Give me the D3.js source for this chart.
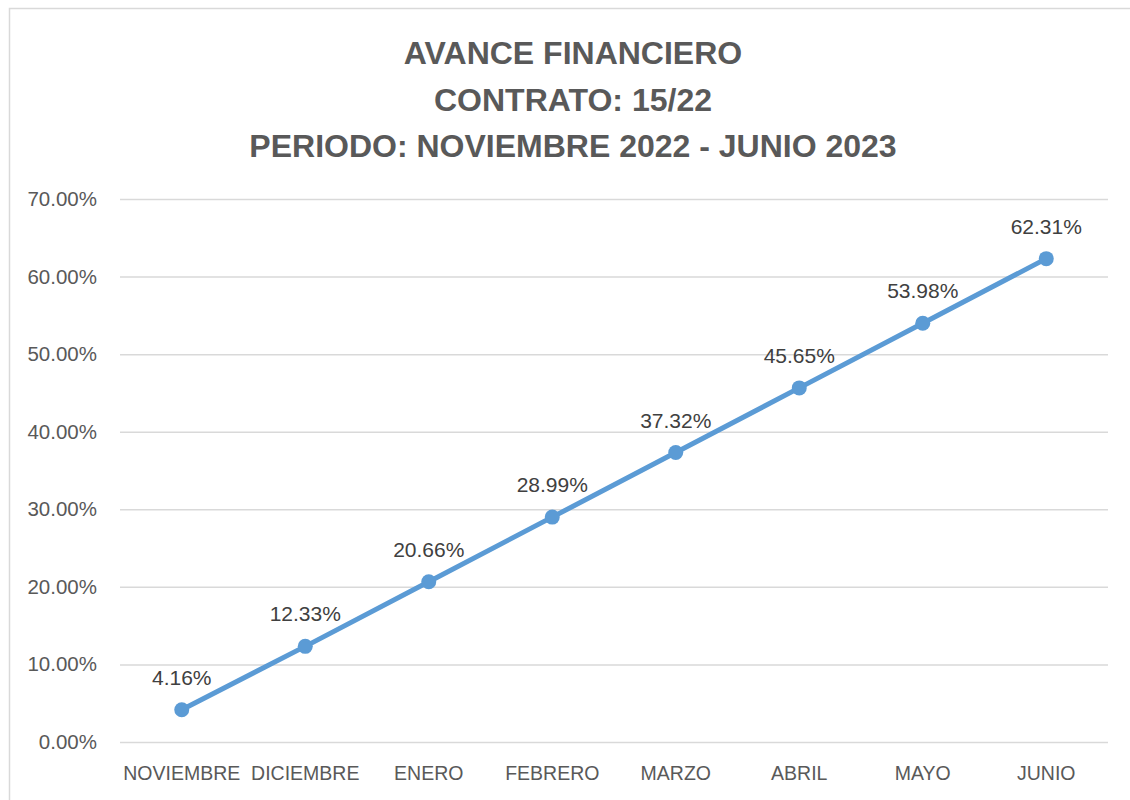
<!DOCTYPE html>
<html><head><meta charset="utf-8">
<script src="https://cdn.jsdelivr.net/npm/d3@7"></script>
<style>body{margin:0;background:#fff}svg{display:block}text{font-family:"Liberation Sans",Arial,sans-serif}</style>
</head><body><svg id="c" width="1130" height="800"></svg>
<script>
const categories = ["NOVIEMBRE","DICIEMBRE","ENERO","FEBRERO","MARZO","ABRIL","MAYO","JUNIO"];
const values = [4.16, 12.33, 20.66, 28.99, 37.32, 45.65, 53.98, 62.31];
const yTicks = [0,10,20,30,40,50,60,70];
const titleLines = ["AVANCE FINANCIERO","CONTRATO: 15/22","PERIODO: NOVIEMBRE 2022 - JUNIO 2023"];

const svg = d3.select("#c");
svg.append("rect").attr("x",9.5).attr("y",8.5).attr("width",1140).attr("height",820)
  .attr("fill","#fff").attr("stroke","#D9D9D9").attr("stroke-width",1.5);

const x = d3.scaleBand().domain(categories).range([120,1108]);
const y = d3.scaleLinear().domain([0,70]).range([742,199]);

svg.append("g").selectAll("text").data(titleLines).join("text")
  .attr("x",573).attr("y",(d,i)=>64+i*46.5).attr("text-anchor","middle")
  .attr("font-size",32).attr("font-weight","bold").attr("fill","#595959").text(d=>d);

const yAxis = d3.axisLeft(y).tickValues(yTicks).tickSize(-988).tickFormat(d=>d.toFixed(2)+"%");
const gy = svg.append("g").attr("transform","translate(120,0)").call(yAxis);
gy.select(".domain").remove();
gy.selectAll(".tick line").attr("stroke","#D9D9D9").attr("stroke-width",1.5);
gy.selectAll(".tick text").attr("x",-23).attr("font-size",20.5).attr("fill","#595959")
  .attr("font-family","Liberation Sans, Arial, sans-serif");

const xAxis = d3.axisBottom(x).tickSize(0);
const gx = svg.append("g").attr("transform","translate(0,742)").call(xAxis);
gx.select(".domain").remove();
gx.selectAll(".tick text").attr("dy",0).attr("y",38).attr("font-size",19.5).attr("fill","#595959")
  .attr("font-family","Liberation Sans, Arial, sans-serif");

const cx = d => x(d) + x.bandwidth()/2;
const line = d3.line().x((d,i)=>cx(categories[i])).y(d=>y(d));
svg.append("path").datum(values).attr("d",line).attr("fill","none")
  .attr("stroke","#5B9BD5").attr("stroke-width",5).attr("stroke-linecap","round");
svg.append("g").selectAll("circle").data(values).join("circle")
  .attr("cx",(d,i)=>cx(categories[i])).attr("cy",d=>y(d)).attr("r",7.5).attr("fill","#5B9BD5");
svg.append("g").selectAll("text").data(values).join("text")
  .attr("x",(d,i)=>cx(categories[i])).attr("y",d=>y(d)-25).attr("text-anchor","middle")
  .attr("font-size",21).attr("fill","#404040").text(d=>d.toFixed(2)+"%");
</script></body></html>
